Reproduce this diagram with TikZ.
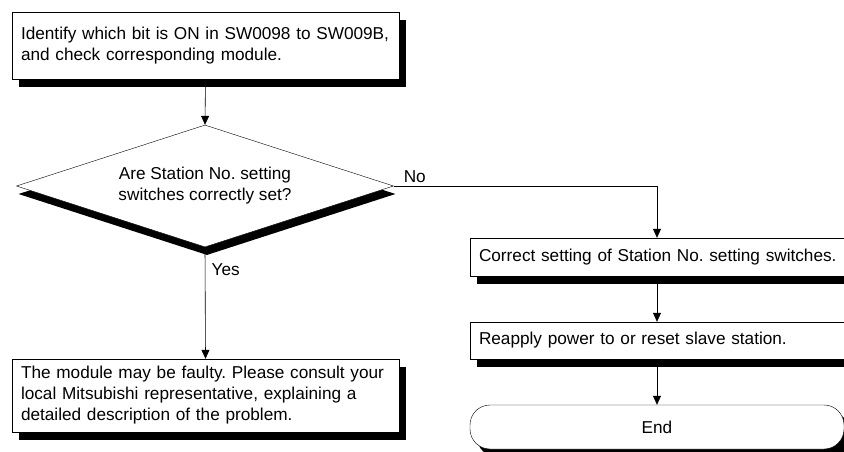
\documentclass[tikz,border=0pt]{standalone}
\usepackage{fontspec}
\setmainfont{Liberation Sans}
\frenchspacing
\usetikzlibrary{shapes.geometric,arrows.meta,shadows}
\begin{document}
\begin{tikzpicture}[x=1pt,y=-1pt,
    every node/.style={font=\fontsize{17.2}{21}\selectfont},
    shade box/.style={drop shadow={shadow xshift=7pt,shadow yshift=-8pt,fill=black,opacity=1}},
    procbox/.style={draw,fill=white,rectangle,align=left,inner xsep=9pt,inner ysep=0pt,shade box},
    flow/.style={-{Triangle[length=9pt,width=8pt]},semithick}]
    \useasboundingbox (0,0) rectangle (844,452);
    \node[procbox,text width=369pt,minimum height=67pt] (ident) at (205.5,45.5)
        {Identify which bit is ON in SW0098 to SW009B,\\and check corresponding module.};
    \node[draw,fill=white,diamond,aspect=3.1,minimum width=377pt,minimum height=122pt,inner sep=0pt,align=center,
        drop shadow={shadow xshift=2pt,shadow yshift=-8pt,fill=black,opacity=1}] (decide) at (205,186)
        {Are Station No. setting\\switches correctly set?};
    \node[procbox,text width=369pt,minimum height=73pt] (fault) at (205.5,395.5)
        {The module may be faulty. Please consult your\\local Mitsubishi representative, explaining a\\detailed description of the problem.};
    \node[procbox,text width=356pt,minimum height=38pt] (correct) at (657,257)
        {\mbox{Correct setting of Station No. setting switches.}};
    \node[procbox,text width=356pt,minimum height=37pt] (reapply) at (657,340.5)
        {Reapply power to or reset slave station.};
    \node[draw,fill=white,rectangle,rounded corners=20pt,minimum width=374pt,minimum height=44pt,shade box] (stop) at (657,427) {End};
    % connectors
    \draw[flow] (ident.south) -- (decide.north);
    \draw[flow] (decide.south) -- node[pos=0.2,right=3pt] {Yes} (fault.north);
    \draw[flow] (decide.east) -| node[pos=0.04,above] {No} (correct.north);
    \draw[flow] (correct.south) -- (reapply.north);
    \draw[flow] (reapply.south) -- (stop.north);
\end{tikzpicture}
\end{document}
